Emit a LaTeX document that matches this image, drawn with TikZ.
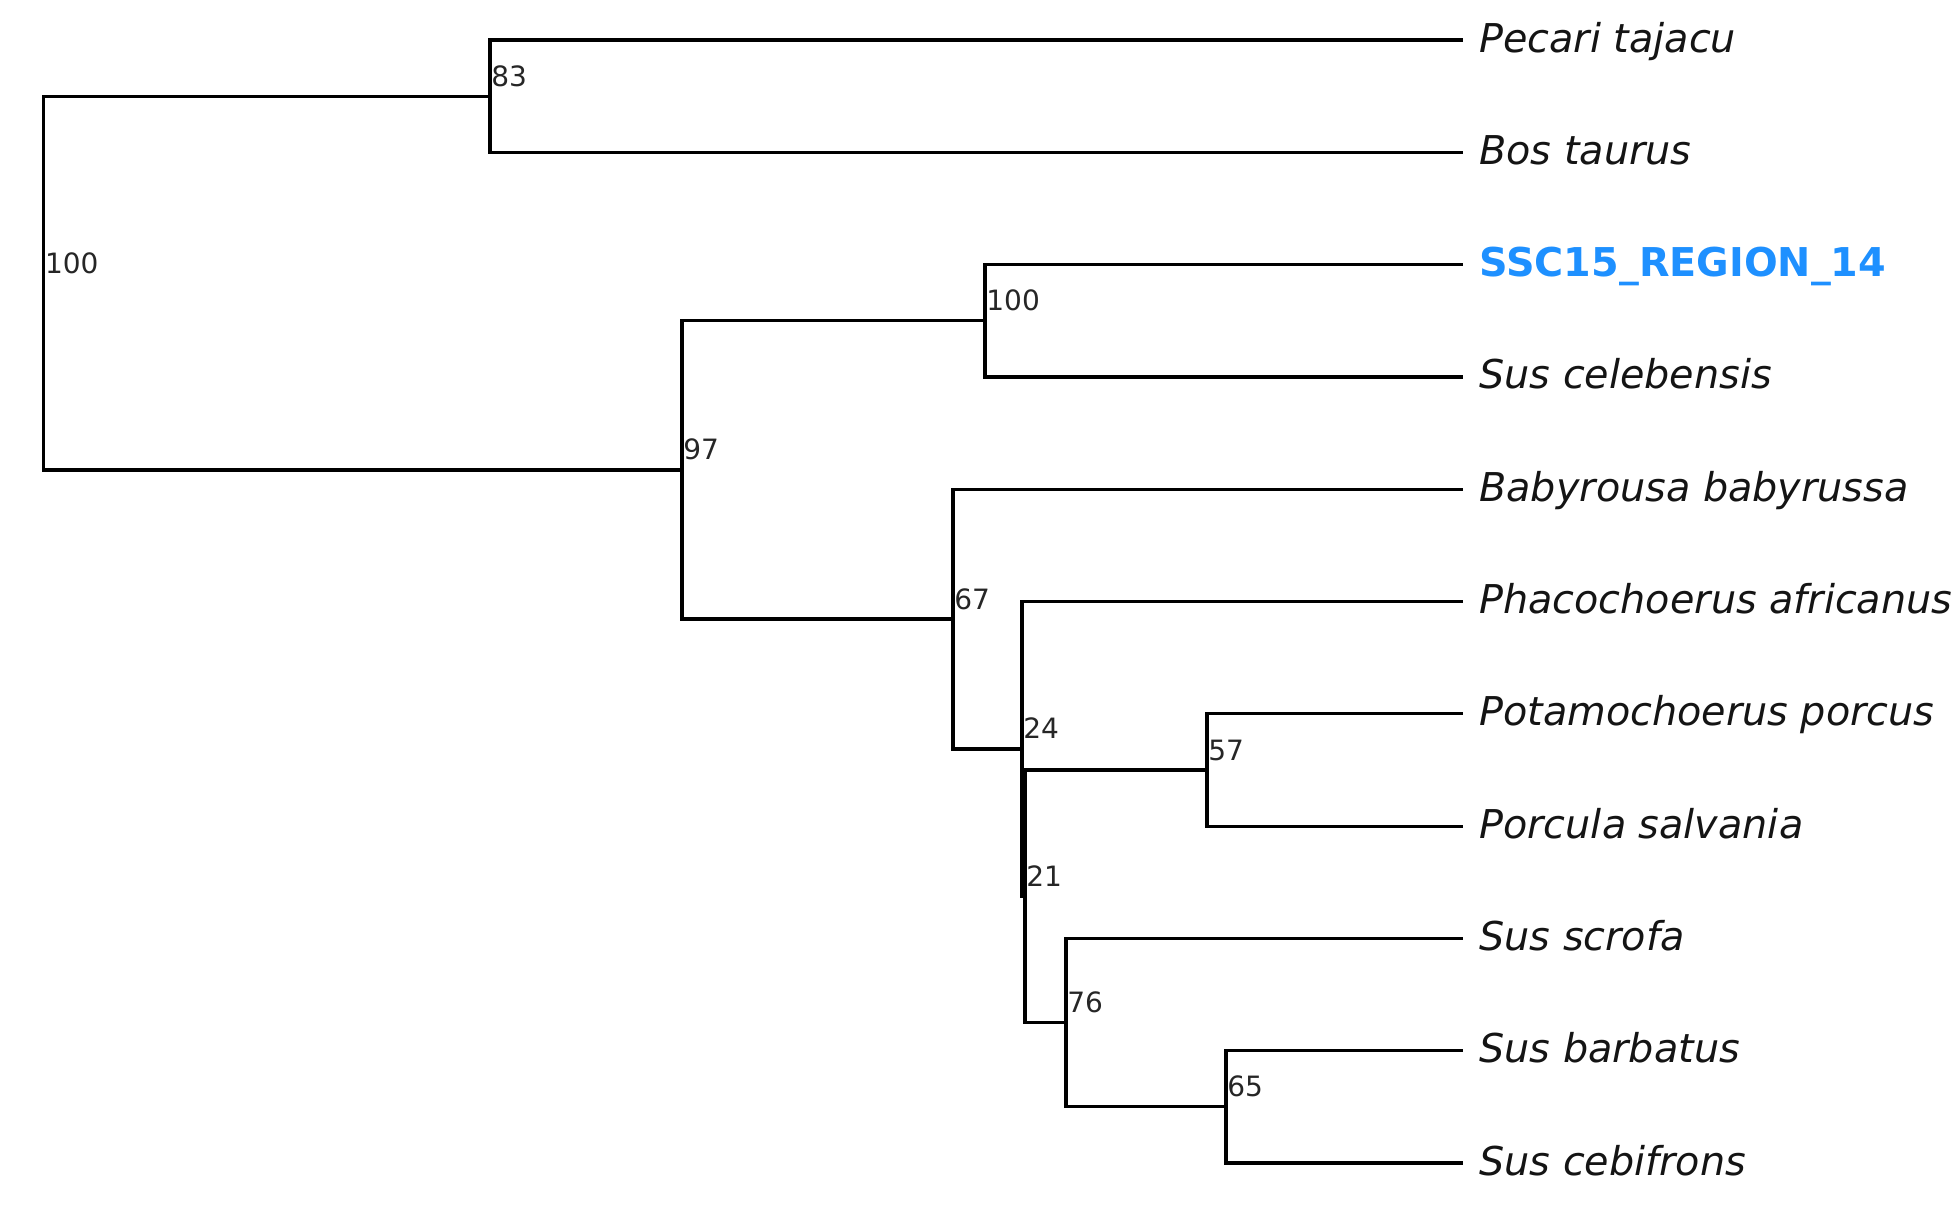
\documentclass[tikz,border=0pt]{standalone}
\usepackage{fontspec}
\setmainfont{DejaVu Sans}
\definecolor{hl}{RGB}{30,144,255}
\begin{document}
\begin{tikzpicture}[x=0.5pt,y=-0.5pt,
  br/.style={line width=1.6pt,line join=miter,black},
  leaf/.style={anchor=west,inner xsep=8pt,inner ysep=0pt,text height=12pt,text depth=0pt,font=\fontsize{19.85pt}{22pt}\selectfont\itshape,text=black!92},
  hileaf/.style={leaf,font=\fontsize{19.85pt}{22pt}\selectfont\bfseries,text=hl},
  sup/.style={anchor=base west,inner sep=0pt,xshift=0.5pt,yshift=5pt,font=\fontsize{14pt}{16pt}\selectfont,text=black!85}]
\useasboundingbox (0,0) rectangle (1956,1210);
% internal nodes
\coordinate (R) at (43.7,283);
\coordinate (n83) at (490,96.2);
\coordinate (n97) at (682,469.9);
\coordinate (n100) at (985,320.8);
\coordinate (n67) at (953,619);
\coordinate (n24) at (1022,748.9);
\coordinate (n21) at (1025,896.3);
\coordinate (n57) at (1207,770);
\coordinate (n76) at (1066,1022.6);
\coordinate (n65) at (1226,1106.8);
% leaves
\node[leaf] (t0) at (1463,40) {Pecari tajacu};
\node[leaf] (t1) at (1463,152.3) {Bos taurus};
\node[hileaf] (t2) at (1463,264.6) {SSC15\_REGION\_14};
\node[leaf] (t3) at (1463,376.9) {Sus celebensis};
\node[leaf] (t4) at (1463,489.2) {Babyrousa babyrussa};
\node[leaf] (t5) at (1463,601.5) {Phacochoerus africanus};
\node[leaf] (t6) at (1463,713.8) {Potamochoerus porcus};
\node[leaf] (t7) at (1463,826.1) {Porcula salvania};
\node[leaf] (t8) at (1463,938.4) {Sus scrofa};
\node[leaf] (t9) at (1463,1050.7) {Sus barbatus};
\node[leaf] (t10) at (1463,1163) {Sus cebifrons};
% branches
\draw[br] (R) |- (n83);
\draw[br] (R) |- (n97);
\draw[br] (n83) |- (t0.west);
\draw[br] (n83) |- (t1.west);
\draw[br] (n97) |- (n100);
\draw[br] (n97) |- (n67);
\draw[br] (n100) |- (t2.west);
\draw[br] (n100) |- (t3.west);
\draw[br] (n67) |- (t4.west);
\draw[br] (n67) |- (n24);
\draw[br] (n24) |- (t5.west);
\draw[br] (n24) |- (n21);
\draw[br] (n21) |- (n57);
\draw[br] (n21) |- (n76);
\draw[br] (n57) |- (t6.west);
\draw[br] (n57) |- (t7.west);
\draw[br] (n76) |- (t8.west);
\draw[br] (n76) |- (n65);
\draw[br] (n65) |- (t9.west);
\draw[br] (n65) |- (t10.west);
% support values
\node[sup] (sR) at (R) {100};
\node[sup] (s83) at (n83) {83};
\node[sup] (s97) at (n97) {97};
\node[sup] (s100) at (n100) {100};
\node[sup] (s67) at (n67) {67};
\node[sup] (s24) at (n24) {24};
\node[sup] (s21) at (n21) {21};
\node[sup] (s57) at (n57) {57};
\node[sup] (s76) at (n76) {76};
\node[sup] (s65) at (n65) {65};
\end{tikzpicture}
\end{document}
